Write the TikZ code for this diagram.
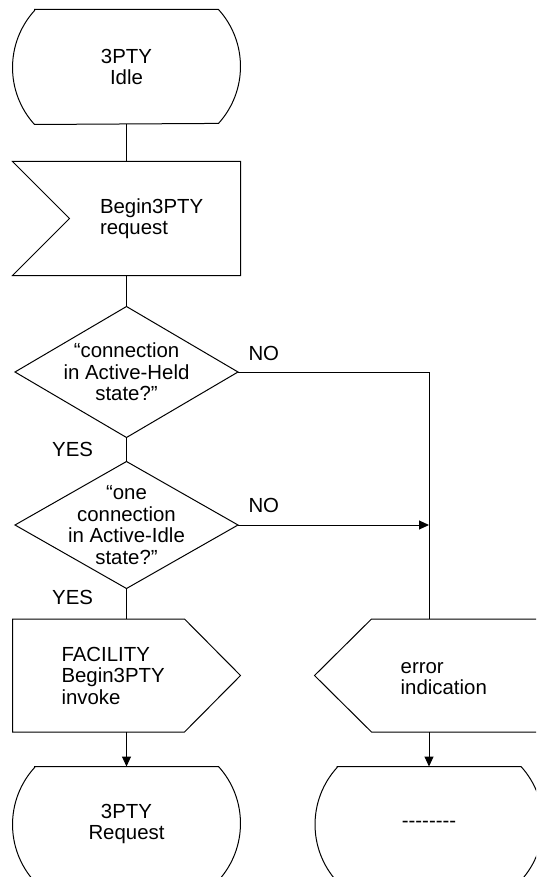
\documentclass[tikz,border=0pt]{standalone}
\usepackage{fontspec}
\setmainfont{Liberation Sans}
\usetikzlibrary{arrows.meta}

\tikzset{
  every node/.style={font=\fontsize{20.4}{21.5}\selectfont},
  every label/.style={inner sep=0pt, align=left},
  plainbox/.style={rectangle, inner sep=0pt, align=center},
  answer/.style={inner sep=0pt},
  statebox/.style={plainbox, minimum width=183pt, minimum height=114pt,
    append after command={\pgfextra{\draw
      (\tikzlastnode.north west) -- (\tikzlastnode.north east)
      arc[start angle=42.2, end angle=-42.2, radius=84.8pt]
      -- (\tikzlastnode.south west)
      arc[start angle=222.2, end angle=137.8, radius=84.8pt] -- cycle;}}},
  inbox/.style={plainbox, minimum width=227pt, minimum height=113pt,
    append after command={\pgfextra{\draw
      (\tikzlastnode.north west) -- (\tikzlastnode.north east)
      -- (\tikzlastnode.south east) -- (\tikzlastnode.south west)
      -- ([xshift=57pt]\tikzlastnode.west) -- cycle;}}},
  outbox/.style={plainbox, minimum width=227pt, minimum height=112pt,
    append after command={\pgfextra{\draw
      (\tikzlastnode.north west) -- ([xshift=-56pt]\tikzlastnode.north east)
      -- (\tikzlastnode.east) -- ([xshift=-56pt]\tikzlastnode.south east)
      -- (\tikzlastnode.south west) -- cycle;}}},
  backbox/.style={plainbox, minimum width=228pt, minimum height=112pt,
    append after command={\pgfextra{\draw
      ([xshift=57pt]\tikzlastnode.north west) -- (\tikzlastnode.north east)
      -- (\tikzlastnode.south east) -- ([xshift=57pt]\tikzlastnode.south west)
      -- (\tikzlastnode.west) -- cycle;}}},
  decision/.style={plainbox, minimum width=222pt, minimum height=130pt,
    append after command={\pgfextra{\draw
      (\tikzlastnode.north) -- (\tikzlastnode.east)
      -- (\tikzlastnode.south) -- (\tikzlastnode.west) -- cycle;}}},
}

\begin{document}
\begin{tikzpicture}[>={Triangle[length=10pt,width=9pt]}, x=1pt, y=-1pt, line width=1pt]
\pgfmathsetmacro\lx{126.5}
\pgfmathsetmacro\rx{429}
\useasboundingbox (0,0) rectangle (536,877);
\clip (0,0) rectangle (536,877);

\node[statebox] (idle) at (\lx,67) {3PTY\\Idle};
\node[inbox, label={[anchor=west,xshift=87pt]west:{Begin3PTY\\request}}] (begin) at (\lx,218.5) {};
\node[decision] (held) at (\lx,372) {“connection\\in Active-Held\\state?”};
\node[decision, minimum height=126pt] (active) at (\lx,525) {“one\\connection\\in Active-Idle\\state?”};
\node[outbox, label={[anchor=west,xshift=48.5pt]west:{FACILITY\\Begin3PTY\\invoke}}] (invoke) at (\lx,675.5) {};
\node[backbox, label={[anchor=west,xshift=85.7pt,yshift=-3pt]west:{error\\indication}}] (error) at (\rx,675.5) {};
\node[statebox] (request) at (\lx,824) {3PTY\\Request};
\node[statebox] (dashes) at (\rx,824) {\mbox{-}\mbox{-}\mbox{-}\mbox{-}\mbox{-}\mbox{-}\mbox{-}\mbox{-}};

\coordinate (merge) at (error.north |- active.east);

\draw (idle.south) -- (begin.north);
\draw (begin.south) -- (held.north);
\draw (held.south) -- node[answer, midway, anchor=east, xshift=-33pt] {YES} (active.north);
\draw (held.east) node[answer, anchor=south west, xshift=10pt, yshift=11pt] {NO} -| (error.north);
\draw[->] (active.east) node[answer, anchor=south west, xshift=10pt, yshift=12pt] {NO} -- (merge);
\draw (active.south) -- node[answer, pos=0.3, anchor=east, xshift=-33pt] {YES} (invoke.north);
\draw[->] (invoke.south) -- (request.north);
\draw[->] (error.south) -- (dashes.north);
\end{tikzpicture}
\end{document}
